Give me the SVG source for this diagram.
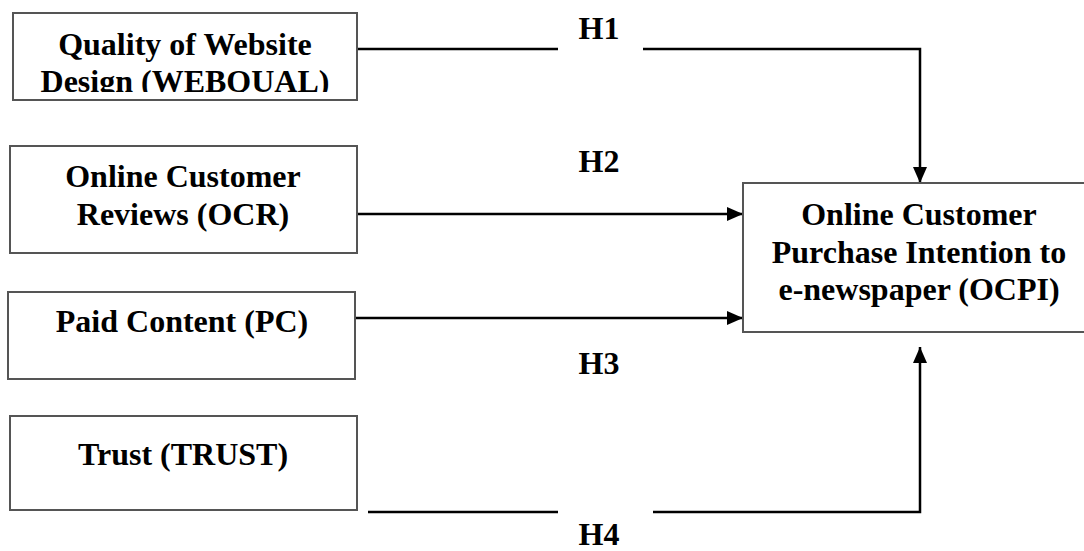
<svg xmlns="http://www.w3.org/2000/svg" width="1084" height="551" viewBox="0 0 1084 551">
<style>
.box{fill:#fff;stroke:#555;stroke-width:2}
.lbl{font-family:"Liberation Serif","Times New Roman",serif;font-weight:bold;font-size:32px;fill:#000;text-anchor:middle}
.con{fill:none;stroke:#000;stroke-width:2.5}
</style>
<defs>
<marker id="arr" markerUnits="userSpaceOnUse" markerWidth="16" markerHeight="14" refX="16" refY="7" orient="auto">
<path d="M0,0 L16,7 L0,14 z" fill="#000"/>
</marker>
<clipPath id="clip1"><rect x="13" y="13" width="344" height="79"/></clipPath>
</defs>
<rect width="1084" height="551" fill="#fff"/>
<g id="connectors">
<line class="con" x1="357" y1="49" x2="558" y2="49"/>
<polyline class="con" points="643,49 920,49 920,183" marker-end="url(#arr)"/>
<line class="con" x1="357" y1="214" x2="743" y2="214" marker-end="url(#arr)"/>
<line class="con" x1="355" y1="318" x2="743" y2="318" marker-end="url(#arr)"/>
<line class="con" x1="368" y1="512" x2="558" y2="512"/>
<polyline class="con" points="653,512 920,512 920,347" marker-end="url(#arr)"/>
<text class="lbl" x="599" y="39">H1</text>
<text class="lbl" x="599" y="172">H2</text>
<text class="lbl" x="599" y="374">H3</text>
<text class="lbl" x="599" y="545">H4</text>
</g>
<g id="webqual">
<rect class="box" x="13" y="13" width="344" height="87"/>
<g clip-path="url(#clip1)">
<text class="lbl" x="185" y="55">Quality of Website</text>
<text class="lbl" x="185" y="92">Design (WEBQUAL)</text>
</g>
</g>
<g id="ocr">
<rect class="box" x="10" y="146" width="347" height="107"/>
<text class="lbl" x="183" y="187">Online Customer</text>
<text class="lbl" x="183" y="225">Reviews (OCR)</text>
</g>
<g id="pc">
<rect class="box" x="8" y="292" width="347" height="87"/>
<text class="lbl" x="182" y="332">Paid Content (PC)</text>
</g>
<g id="trust">
<rect class="box" x="10" y="416" width="347" height="94"/>
<text class="lbl" x="183" y="465">Trust (TRUST)</text>
</g>
<g id="ocpi">
<rect class="box" x="743" y="183" width="353" height="149"/>
<text class="lbl" x="919" y="225">Online Customer</text>
<text class="lbl" x="919" y="263">Purchase Intention to</text>
<text class="lbl" x="919" y="300">e-newspaper (OCPI)</text>
</g>
</svg>
